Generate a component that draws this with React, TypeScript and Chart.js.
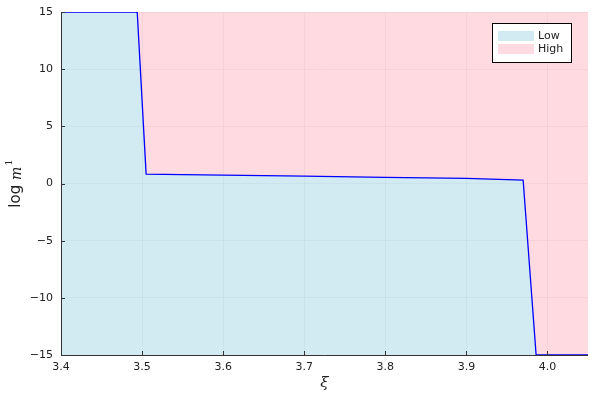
import React, { useEffect, useRef } from "react";
import { Chart, registerables } from "chart.js";

Chart.register(...registerables);

const xiValues = [3.4, 3.494, 3.505, 3.55, 3.6, 3.7, 3.8, 3.9, 3.97, 3.986, 4.05];
const logM1Values = [15, 15, 0.82, 0.78, 0.74, 0.64, 0.54, 0.44, 0.3, -15, -15];
const xTicks = [3.4, 3.5, 3.6, 3.7, 3.8, 3.9, 4.0];
const yTicks = [-15, -10, -5, 0, 5, 10, 15];
const seriesLabels = ["Low", "High"];

const LOW_FILL = "rgba(173,216,230,0.55)";
const HIGH_FILL = "rgba(255,182,193,0.5)";
const TEXT = "#222";

const decorPlugin = {
  id: "decor",
  afterDraw(chart: any) {
    const { ctx, chartArea, scales } = chart;
    const xs = scales.x;
    const ys = scales.y;
    ctx.save();
    // axis lines
    ctx.strokeStyle = "#333";
    ctx.lineWidth = 1;
    ctx.beginPath();
    ctx.moveTo(chartArea.left + 0.5, chartArea.top);
    ctx.lineTo(chartArea.left + 0.5, chartArea.bottom + 0.5);
    ctx.lineTo(chartArea.right, chartArea.bottom + 0.5);
    ctx.stroke();
    // inner tick marks
    ctx.beginPath();
    xTicks.forEach((v) => {
      const px = Math.round(xs.getPixelForValue(v)) + 0.5;
      ctx.moveTo(px, chartArea.bottom);
      ctx.lineTo(px, chartArea.bottom - 4);
    });
    yTicks.forEach((v) => {
      const py = Math.round(ys.getPixelForValue(v)) + 0.5;
      ctx.moveTo(chartArea.left, py);
      ctx.lineTo(chartArea.left + 4, py);
    });
    ctx.stroke();

    // x title
    ctx.fillStyle = TEXT;
    ctx.font = "italic 15px 'DejaVu Serif'";
    ctx.textAlign = "center";
    ctx.textBaseline = "middle";
    ctx.fillText("ξ", (chartArea.left + chartArea.right) / 2, 383);

    // y title
    ctx.save();
    ctx.translate(16, (chartArea.top + chartArea.bottom) / 2);
    ctx.rotate(-Math.PI / 2);
    ctx.textBaseline = "middle";
    ctx.textAlign = "left";
    const part1 = "log ";
    const part2 = "m";
    const part3 = "1";
    ctx.font = "15px 'DejaVu Sans'";
    const w1 = ctx.measureText(part1).width;
    ctx.font = "italic 14px 'DejaVu Serif'";
    const w2 = ctx.measureText(part2).width;
    ctx.font = "10px 'DejaVu Serif'";
    const w3 = ctx.measureText(part3).width;
    const total = w1 + w2 + w3 + 1;
    let cx = -total / 2;
    ctx.font = "15px 'DejaVu Sans'";
    ctx.fillText(part1, cx, 0);
    cx += w1;
    ctx.font = "italic 14px 'DejaVu Serif'";
    ctx.fillText(part2, cx, 1);
    cx += w2 + 1;
    ctx.font = "10px 'DejaVu Serif'";
    ctx.fillText(part3, cx, -7);
    ctx.restore();

    // legend
    const lx = 492, ly = 23, lw = 79, lh = 39;
    ctx.fillStyle = "#fff";
    ctx.fillRect(lx, ly, lw, lh);
    ctx.strokeStyle = "#000";
    ctx.lineWidth = 1;
    ctx.strokeRect(lx + 0.5, ly + 0.5, lw, lh);
    const fills = [LOW_FILL, HIGH_FILL];
    ctx.font = "11px 'DejaVu Sans'";
    ctx.textAlign = "left";
    ctx.textBaseline = "middle";
    seriesLabels.forEach((lab, i) => {
      const yy = ly + 8 + i * 13;
      ctx.fillStyle = fills[i];
      ctx.fillRect(lx + 6, yy, 36, 10);
      ctx.fillStyle = TEXT;
      ctx.fillText(lab, lx + 46, yy + 5);
    });
    ctx.restore();
  },
};

export default function App() {
  const ref = useRef<HTMLCanvasElement | null>(null);
  useEffect(() => {
    if (!ref.current) return;
    const pts = xiValues.map((x, i) => ({ x, y: logM1Values[i] }));
    const chart = new Chart(ref.current, {
      type: "line",
      data: {
        datasets: [
          {
            label: seriesLabels[0],
            data: pts,
            borderColor: "#0000ff",
            borderWidth: 1.3,
            backgroundColor: LOW_FILL,
            fill: "start",
            pointRadius: 0,
            tension: 0,
          },
          {
            label: seriesLabels[1],
            data: pts,
            borderWidth: 0,
            borderColor: "rgba(0,0,0,0)",
            backgroundColor: HIGH_FILL,
            fill: "end",
            pointRadius: 0,
            tension: 0,
          },
        ],
      },
      options: {
        animation: false,
        responsive: false,
        layout: { padding: { top: 12, right: 12, left: 0, bottom: 0 } },
        plugins: { legend: { display: false }, tooltip: { enabled: false } },
        scales: {
          x: {
            type: "linear",
            min: 3.4,
            max: 4.05,
            afterBuildTicks: (s: any) => {
              s.ticks = xTicks.map((v) => ({ value: v }));
            },
            afterFit: (s: any) => {
              s.height = 45;
            },
            grid: { color: "rgba(0,0,0,0.07)", drawTicks: false },
            border: { display: false },
            ticks: {
              padding: 6,
              color: TEXT,
              font: { family: "'DejaVu Sans'", size: 11 },
              callback: (v: any) => Number(v).toFixed(1),
              maxRotation: 0,
            },
          },
          y: {
            min: -15,
            max: 15,
            afterBuildTicks: (s: any) => {
              s.ticks = yTicks.map((v) => ({ value: v }));
            },
            afterFit: (s: any) => {
              s.width = 61;
              s.paddingTop = 0;
              s.paddingBottom = 0;
            },
            grid: { color: "rgba(0,0,0,0.07)", drawTicks: false },
            border: { display: false },
            ticks: {
              padding: 8,
              color: TEXT,
              font: { family: "'DejaVu Sans'", size: 11 },
              callback: (v: any) => (Number(v) < 0 ? "\u2212" + Math.abs(Number(v)) : String(v)),
            },
          },
        },
      },
      plugins: [decorPlugin],
    });
    return () => chart.destroy();
  }, []);
  return (
    <div style={{ position: "fixed", left: 0, top: 0, width: 600, height: 400, background: "#fff" }}>
      <canvas ref={ref} width={600} height={400} />
    </div>
  );
}
